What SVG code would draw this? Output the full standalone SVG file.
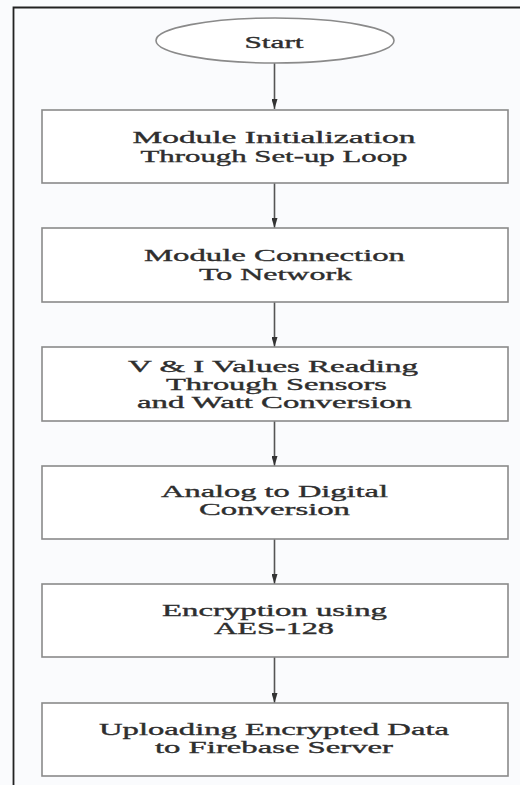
<svg xmlns="http://www.w3.org/2000/svg" width="520" height="785" viewBox="0 0 520 785">
<defs>
<style>
.node{fill:#ffffff;stroke:#8a8a8a;stroke-width:1.6}
.lbl{font-family:"Liberation Serif","Times New Roman",serif;font-size:17px;fill:#2e2e2e;stroke:#2e2e2e;stroke-width:0.35;text-anchor:middle}
.sm{font-size:16px}
.conn{stroke:#555;stroke-width:1.6;fill:none;marker-end:url(#ah)}
</style>
<marker id="ah" viewBox="0 0 10 6" refX="10" refY="3" markerWidth="10" markerHeight="6" markerUnits="userSpaceOnUse" orient="auto">
<path d="M0,0 L10,3 L0,6 Z" fill="#333"/>
</marker>
</defs>
<rect width="520" height="785" fill="#fafbfd"/>
<path d="M13.5,785 V7.5 H520" stroke="#222" stroke-width="1.8" fill="none"/>
<g id="connectors">
<line class="conn" x1="274.5" y1="63" x2="274.5" y2="109"/>
<line class="conn" x1="274.5" y1="183" x2="274.5" y2="228"/>
<line class="conn" x1="274.5" y1="302" x2="274.5" y2="347"/>
<line class="conn" x1="274.5" y1="421" x2="274.5" y2="466"/>
<line class="conn" x1="274.5" y1="539" x2="274.5" y2="584"/>
<line class="conn" x1="274.5" y1="657" x2="274.5" y2="703"/>
</g>
<g id="start">
<ellipse class="node" cx="275" cy="40.5" rx="119" ry="22.5"/>
<text class="lbl" x="274" y="48" textLength="59" lengthAdjust="spacingAndGlyphs">Start</text>
</g>
<g id="init">
<rect class="node" x="42" y="110" width="466" height="73"/>
<text class="lbl" x="274" y="143" textLength="283" lengthAdjust="spacingAndGlyphs">Module Initialization</text>
<text class="lbl" x="274" y="162" textLength="267" lengthAdjust="spacingAndGlyphs">Through Set-up Loop</text>
</g>
<g id="connect">
<rect class="node" x="42" y="228" width="466" height="74"/>
<text class="lbl" x="274.5" y="261" textLength="261" lengthAdjust="spacingAndGlyphs">Module Connection</text>
<text class="lbl" x="275.5" y="280" textLength="153" lengthAdjust="spacingAndGlyphs">To Network</text>
</g>
<g id="read">
<rect class="node" x="42" y="347" width="466" height="74"/>
<text class="lbl sm" x="273" y="372" textLength="290" lengthAdjust="spacingAndGlyphs">V &amp; I Values Reading</text>
<text class="lbl sm" x="276.5" y="390" textLength="221" lengthAdjust="spacingAndGlyphs">Through Sensors</text>
<text class="lbl sm" x="274.5" y="408" textLength="275" lengthAdjust="spacingAndGlyphs">and Watt Conversion</text>
</g>
<g id="adc">
<rect class="node" x="42" y="466" width="466" height="73"/>
<text class="lbl" x="274.5" y="497" textLength="227" lengthAdjust="spacingAndGlyphs">Analog to Digital</text>
<text class="lbl" x="274.5" y="515" textLength="151" lengthAdjust="spacingAndGlyphs">Conversion</text>
</g>
<g id="encrypt">
<rect class="node" x="42" y="584" width="466" height="73"/>
<text class="lbl" x="274.5" y="616" textLength="225" lengthAdjust="spacingAndGlyphs">Encryption using</text>
<text class="lbl" x="274" y="634" textLength="120" lengthAdjust="spacingAndGlyphs">AES-128</text>
</g>
<g id="upload">
<rect class="node" x="42" y="703" width="466" height="73"/>
<text class="lbl" x="274" y="735" textLength="350" lengthAdjust="spacingAndGlyphs">Uploading Encrypted Data</text>
<text class="lbl" x="274" y="753" textLength="238" lengthAdjust="spacingAndGlyphs">to Firebase Server</text>
</g>
</svg>
